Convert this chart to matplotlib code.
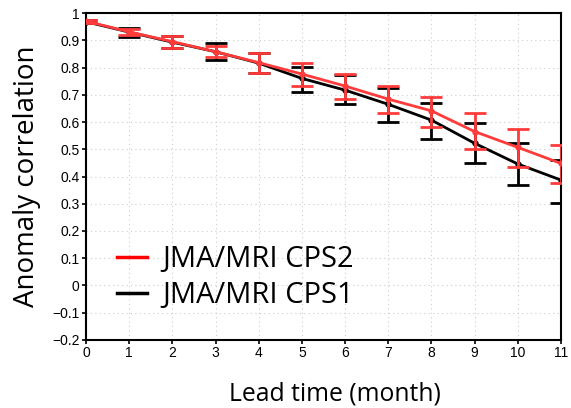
import numpy as np
import matplotlib
matplotlib.use('Agg')
import matplotlib.pyplot as plt
from matplotlib.lines import Line2D

lead = [0, 1, 2, 3, 4, 5, 6, 7, 8, 9, 10, 11]

# JMA/MRI CPS1 (black)
cps1 = [0.968, 0.930, 0.893, 0.858, 0.816, 0.760, 0.717, 0.665, 0.607, 0.522, 0.446, 0.387]
cps1_hi = [0.975, 0.944, 0.915, 0.889, 0.852, 0.803, 0.772, 0.724, 0.671, 0.595, 0.522, 0.461]
cps1_lo = [0.962, 0.911, 0.872, 0.828, 0.781, 0.711, 0.665, 0.601, 0.536, 0.448, 0.369, 0.304]

# JMA/MRI CPS2 (red)
cps2 = [0.970, 0.931, 0.895, 0.858, 0.818, 0.776, 0.732, 0.684, 0.641, 0.565, 0.507, 0.448]
cps2_hi = [0.976, 0.943, 0.916, 0.880, 0.852, 0.818, 0.775, 0.733, 0.693, 0.632, 0.573, 0.516]
cps2_lo = [0.963, 0.919, 0.870, 0.840, 0.781, 0.732, 0.684, 0.634, 0.580, 0.502, 0.436, 0.375]

red = '#ff3b3b'

fig = plt.figure(figsize=(5.71, 4.08), dpi=100)
ax = fig.add_axes([0.1506, 0.1667, 0.8318, 0.8014])

def draw(y, hi, lo, color, z):
    y = np.array(y)
    err = [y - np.array(lo), np.array(hi) - y]
    ax.errorbar(lead, y, yerr=err, color=color, lw=2, elinewidth=2,
                capsize=8, capthick=2, marker='o', markersize=3.5, zorder=z)

draw(cps1, cps1_hi, cps1_lo, 'black', 3)
draw(cps2, cps2_hi, cps2_lo, red, 4)

ax.set_xlim(0, 11)
ax.set_ylim(-0.2, 1)
ax.set_xticks(lead)
yt = np.round(np.arange(-0.2, 1.01, 0.1), 1)
ax.set_yticks(yt)
ax.set_yticklabels([('%g' % v).replace('-', '\u2212') for v in yt])
ax.tick_params(direction='out', length=3, width=1.2, labelsize=10, pad=1.5)
for lab in ax.get_xticklabels() + ax.get_yticklabels():
    lab.set_family('Liberation Sans')
for s in ax.spines.values():
    s.set_linewidth(1.5)
ax.grid(True, color='#cccccc', linestyle=(0, (1, 3)), lw=0.8)

ax.set_ylabel('Anomaly correlation', fontsize=20, family='Open Sans')
ax.yaxis.set_label_coords(-0.095, 0.5)
ax.set_xlabel('Lead time (month)', fontsize=17.8, family='Open Sans')
ax.xaxis.set_label_coords(0.524, -0.128)

hs = [Line2D([], [], color='#ff0000', lw=2.5), Line2D([], [], color='black', lw=2.5)]
ax.legend(hs, ['JMA/MRI CPS2', 'JMA/MRI CPS1'], loc='lower left',
          bbox_to_anchor=(0.04, 0.056), frameon=False, handlelength=1.05,
          handletextpad=0.5, labelspacing=0.25, borderaxespad=0,
          prop={'family': 'Open Sans', 'size': 21})

fig.savefig('out.png', dpi=100)
